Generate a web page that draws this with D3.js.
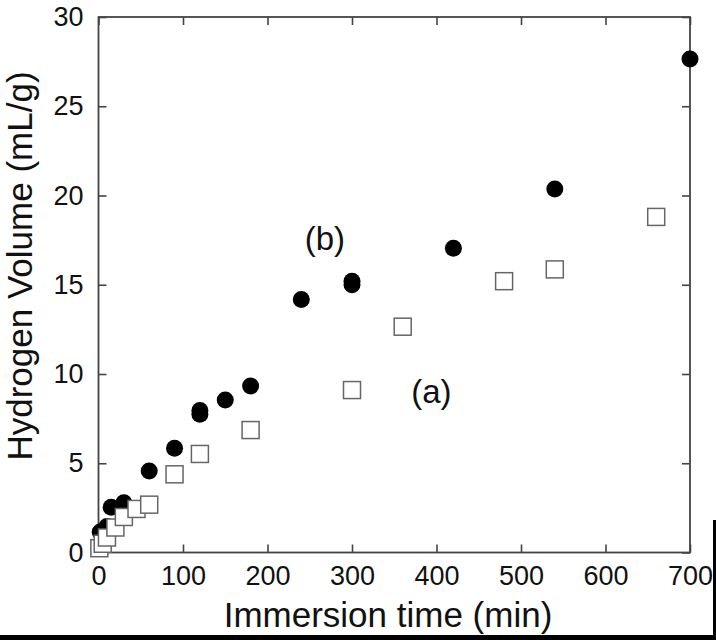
<!DOCTYPE html>
<html lang="en">
  <head>
    <meta charset="utf-8" />
    <title>Hydrogen volume vs immersion time</title>
    <script src="https://d3js.org/d3.v7.min.js" charset="utf-8"></script>
    <style>
      html,
      body {
        margin: 0;
        padding: 0;
        background: #fff;
      }
      svg {
        display: block;
        font-family: "Liberation Sans", Arial, sans-serif;
      }
    </style>
  </head>
  <body>
    <div id="graph-container"></div>
    <script type="text/javascript">
      // series (b): filled circles
      const circTime = [2, 10, 15, 30, 60, 90, 120, 120, 150, 180, 240, 300, 300, 420, 540, 700];
      const circVol = [1.15, 1.45, 2.53, 2.79, 4.57, 5.84, 7.75, 7.95, 8.54, 9.33, 14.18, 15.0, 15.2, 17.04, 20.36, 27.65];
      // series (a): open squares
      const sqTime = [1, 5, 10, 20, 30, 45, 60, 90, 120, 180, 300, 360, 480, 540, 660];
      const sqVol = [0.24, 0.49, 0.84, 1.4, 1.99, 2.44, 2.68, 4.38, 5.52, 6.86, 9.1, 12.65, 15.2, 15.86, 18.8];

      const xTicks = [0, 100, 200, 300, 400, 500, 600, 700];
      const yTicks = [0, 5, 10, 15, 20, 25, 30];
      const seriesLabels = [
        { text: "(b)", t: 268, v: 16.95 },
        { text: "(a)", t: 394, v: 8.35 },
      ];

      const cWSvg = 716,
        cHSvg = 640,
        cLeft = 98.5,
        cRight = 690,
        cTop = 17,
        cBottom = 552.5;

      const svg = d3
        .select("#graph-container")
        .append("svg")
        .attr("width", cWSvg)
        .attr("height", cHSvg);

      const xScale = d3.scaleLinear().domain([0, 700]).range([cLeft, cRight]);
      const yScale = d3.scaleLinear().domain([0, 30]).range([cBottom, cTop]);

      const axisColor = "#444";

      //axes, ticks pointing inward on every side
      const gx = svg
        .append("g")
        .attr("transform", `translate(0,${cBottom})`)
        .call(
          d3.axisBottom(xScale).tickValues(xTicks).tickSizeInner(-8).tickSizeOuter(0).tickPadding(13)
        );
      const gy = svg
        .append("g")
        .attr("transform", `translate(${cLeft},0)`)
        .call(
          d3.axisLeft(yScale).tickValues(yTicks).tickSizeInner(-8).tickSizeOuter(0).tickPadding(15)
        );
      const gxTop = svg
        .append("g")
        .attr("transform", `translate(0,${cTop})`)
        .call(d3.axisTop(xScale).tickValues(xTicks).tickSizeInner(-8).tickSizeOuter(0).tickFormat(""));
      const gyRight = svg
        .append("g")
        .attr("transform", `translate(${cRight},0)`)
        .call(d3.axisRight(yScale).tickValues(yTicks).tickSizeInner(-8).tickSizeOuter(0).tickFormat(""));

      [gx, gy, gxTop, gyRight].forEach((g) => {
        g.select(".domain").remove();
        g.selectAll(".tick line").attr("stroke", axisColor).attr("stroke-width", 1.6);
        g.selectAll(".tick text").attr("fill", "#111").style("font-size", "27px");
      });

      svg
        .append("rect")
        .attr("x", cLeft)
        .attr("y", cTop)
        .attr("width", cRight - cLeft)
        .attr("height", cBottom - cTop)
        .attr("fill", "none")
        .attr("stroke", axisColor)
        .attr("stroke-width", 1.8);

      //data plotting
      svg
        .append("g")
        .selectAll("circle")
        .data(circTime)
        .enter()
        .append("circle")
        .attr("cx", (d) => xScale(d))
        .attr("cy", (d, i) => yScale(circVol[i]))
        .attr("r", 8.5)
        .attr("fill", "#000");

      const cSq = 17;
      svg
        .append("g")
        .selectAll("rect")
        .data(sqTime)
        .enter()
        .append("rect")
        .attr("x", (d) => xScale(d) - cSq / 2)
        .attr("y", (d, i) => yScale(sqVol[i]) - cSq / 2)
        .attr("width", cSq)
        .attr("height", cSq)
        .attr("fill", "#fff")
        .attr("stroke", "#666")
        .attr("stroke-width", 1.5);

      //series labels
      svg
        .append("g")
        .selectAll("text")
        .data(seriesLabels)
        .enter()
        .append("text")
        .attr("x", (d) => xScale(d.t))
        .attr("y", (d) => yScale(d.v))
        .attr("text-anchor", "middle")
        .attr("fill", "#111")
        .style("font-size", "33px")
        .text((d) => d.text);

      //axis titles
      svg
        .append("text")
        .attr("x", 388)
        .attr("y", 627)
        .attr("text-anchor", "middle")
        .attr("fill", "#111")
        .style("font-size", "35px")
        .text("Immersion time (min)");
      svg
        .append("text")
        .attr("transform", "translate(32,266) rotate(-90)")
        .attr("text-anchor", "middle")
        .attr("fill", "#111")
        .style("font-size", "35px")
        .text("Hydrogen Volume (mL/g)");

      //black border strips along the bottom and lower right edge
      svg.append("rect").attr("x", 0).attr("y", 635).attr("width", cWSvg).attr("height", 5).attr("fill", "#000");
      svg.append("rect").attr("x", 713).attr("y", 520).attr("width", 3).attr("height", 120).attr("fill", "#000");
    </script>
  </body>
</html>
